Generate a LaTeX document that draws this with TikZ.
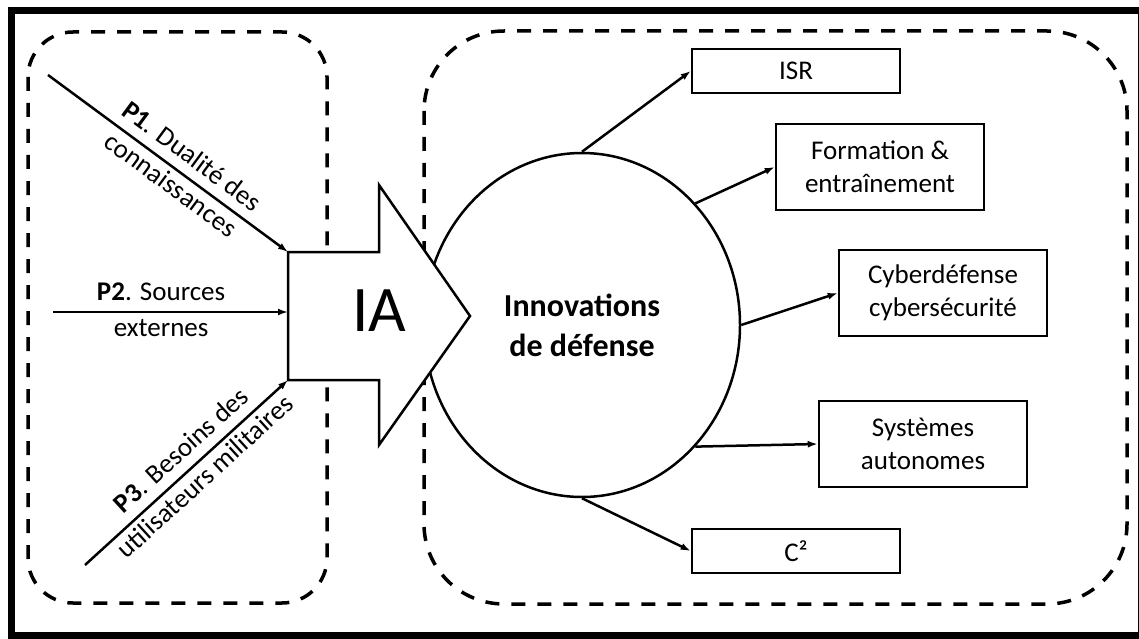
\documentclass[tikz,border=0pt]{standalone}
\usepackage{fontspec}
\setmainfont{Carlito}
\usepackage{tikz}
\usetikzlibrary{shapes.geometric}
\usetikzlibrary{arrows.meta}
\usetikzlibrary{positioning,calc}

\tikzset{
  dashbox/.style={line width=3.5pt, dash pattern=on 14pt off 12pt, rounded corners=#1},
  outbox/.style={draw, line width=2.5pt, minimum width=208pt, align=center, fill=white},
  conn/.style={-{Latex[length=10pt,width=7pt]}, line width=2.5pt},
  plabel/.style={inner sep=4pt, text height=19pt, text depth=6pt},
}

\begin{document}
\begin{tikzpicture}[x=1pt,y=-1pt,
    every node/.style={font=\fontsize{27}{33}\selectfont}]

        \useasboundingbox (0,0) rectangle (1139,639);
        % Frame
        \draw[line width=7pt] (11.5,10.5) rectangle (1141,635.5);

        % Dashed groups
        \draw[dashbox=45pt] (28,32) rectangle (327,603);
        \draw[dashbox=80pt] (424,31) rectangle (1127,604);

        % Innovations (circle)
        \node[ellipse, draw, line width=2.5pt, fill=white, minimum width=316pt, minimum height=344pt,
              align=center, font=\fontsize{32}{40}\selectfont\bfseries] (innov) at (582,325) {Innovations\\de défense};

        % IA arrow
        \draw[line width=2.5pt, fill=white] (288,252) -- (379,252) -- (379,185) -- (470,316)
              -- (379,445) -- (379,380) -- (288,380) -- cycle;
        \node[font=\fontsize{65}{70}\selectfont] (ia) at (379,311) {IA};
        \coordinate (ia-nw) at (288,252);
        \coordinate (ia-w) at (288,312);
        \coordinate (ia-sw) at (288,380);

        % Inputs P1, P2, P3
        \coordinate (p1) at (48,75);
        \coordinate (p2) at (53,312);
        \coordinate (p3) at (85,565);
        \draw[conn] (p1) -- (ia-nw)
              node[plabel, pos=0.55, sloped, above] {\textbf{P1}. Dualité des}
              node[plabel, pos=0.55, sloped, below] {connaissances};
        \draw[conn] (p2) -- (ia-w)
              node[plabel, pos=0.46, above] {\textbf{P2}. Sources}
              node[plabel, pos=0.46, below] {externes};
        \draw[conn] (p3) -- (ia-sw)
              node[plabel, pos=0.54, sloped, above] {\textbf{P3}. Besoins des}
              node[plabel, pos=0.54, sloped, below] {utilisateurs militaires};

        % Outputs
        \node[outbox, minimum height=44pt] (isr) at (796,71) {ISR};
        \node[outbox, minimum height=86pt] (form) at (880,167) {Formation \&\\entraînement};
        \node[outbox, minimum height=86pt] (cyber) at (943,293) {Cyberdéfense\\cybersécurité};
        \node[outbox, minimum height=86pt] (auto) at (923,444) {Systèmes\\autonomes};
        \node[outbox, minimum height=44pt] (c2) at (796,551) {C²};

        \draw[conn] (innov.north) -- (isr.west);
        \draw[conn] (innov.47) -- (form.west);
        \draw[conn] (innov.east) -- (cyber.west);
        \draw[conn] (innov.-47) -- (auto.west);
        \draw[conn] (innov.south) -- (c2.west);

      \end{tikzpicture}
\end{document}
